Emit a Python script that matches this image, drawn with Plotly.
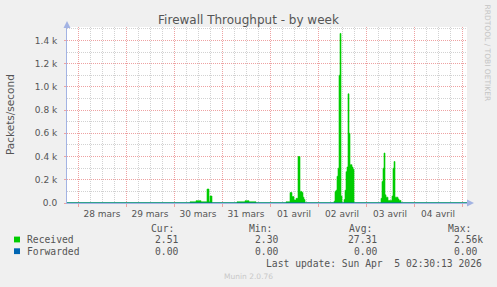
import plotly.graph_objects as go

# ---------------- data ----------------
rx_times = [
    "2026-03-27 18:30", "2026-03-30 08:00", "2026-03-30 11:00", "2026-03-30 13:30",
    "2026-03-30 16:30", "2026-03-30 17:30", "2026-03-30 18:00", "2026-03-30 19:00",
    "2026-03-31 07:30", "2026-03-31 11:30", "2026-03-31 13:30", "2026-03-31 17:00",
    "2026-04-01 08:00", "2026-04-01 10:00", "2026-04-01 11:00", "2026-04-01 12:00",
    "2026-04-01 13:00", "2026-04-01 14:00", "2026-04-01 15:00", "2026-04-01 16:00",
    "2026-04-01 16:30", "2026-04-01 17:00", "2026-04-01 17:30",
    "2026-04-02 08:00", "2026-04-02 08:30", "2026-04-02 09:00", "2026-04-02 09:30",
    "2026-04-02 10:00", "2026-04-02 10:30", "2026-04-02 11:00", "2026-04-02 11:30",
    "2026-04-02 12:00", "2026-04-02 13:00", "2026-04-02 13:30", "2026-04-02 14:00",
    "2026-04-02 14:30", "2026-04-02 15:00", "2026-04-02 15:30", "2026-04-02 16:00",
    "2026-04-02 17:00", "2026-04-02 17:30", "2026-04-02 18:00",
    "2026-04-03 07:30", "2026-04-03 08:00", "2026-04-03 08:30", "2026-04-03 09:00",
    "2026-04-03 09:30", "2026-04-03 10:00", "2026-04-03 11:00", "2026-04-03 13:00",
    "2026-04-03 13:30", "2026-04-03 14:00", "2026-04-03 14:30", "2026-04-03 16:00",
    "2026-04-03 16:30", "2026-04-03 17:30", "2026-04-05 02:30",
]
rx_values = [
    2.5, 10, 20, 10,
    120, 10, 60, 2.5,
    10, 20, 10, 2.5,
    10, 90, 55, 25,
    40, 400, 100, 90,
    50, 30, 2.5,
    15, 100, 110, 230,
    300, 1100, 1460, 60,
    2.5, 30, 110, 270,
    310, 940, 600, 330,
    310, 290, 2.5,
    40, 185, 300, 430,
    70, 50, 22, 60,
    300, 357, 50, 35,
    22, 2.5, 2.5,
]
fw_times = ["2026-03-27 18:30", "2026-04-05 02:30"]
fw_values = [0, 0]

day_label_pos = ["2026-03-28 12:00", "2026-03-29 12:00", "2026-03-30 12:00", "2026-03-31 12:00",
                 "2026-04-01 12:00", "2026-04-02 12:00", "2026-04-03 12:00", "2026-04-04 12:00"]
day_labels = ["28 mars", "29 mars", "30 mars", "31 mars", "01 avril", "02 avril", "03 avril", "04 avril"]
day_bounds = ["2026-03-28", "2026-03-29", "2026-03-30", "2026-03-31", "2026-04-01",
              "2026-04-02", "2026-04-03", "2026-04-04", "2026-04-05"]
y_tickvals = [0, 200, 400, 600, 800, 1000, 1200, 1400]
y_ticktext = ["0.0", "0.2 k", "0.4 k", "0.6 k", "0.8 k", "1.0 k", "1.2 k", "1.4 k"]

legend_names = ["Received", "Forwarded"]
legend_colors = ["#00cc00", "#0066b3"]
cur_vals = ["2.51", "0.00"]
min_vals = ["2.30", "0.00"]
avg_vals = ["27.31", "0.00"]
max_vals = ["2.56k", "0.00"]
last_update = "Last update: Sun Apr\u00a0\u00a05 02:30:13 2026"

# ---------------- layout helpers ----------------
W, H = 497, 287
L, R, T, B = 67, 30, 27, 84
PW, PH = W - L - R, H - T - B
X0, X1 = "2026-03-27 18:30", "2026-04-05 02:30"

def px(x):
    return (x - L) / PW

def py(y):
    return (H - B - y) / PH

MAJ = "#eea2a2"
MIN = "#d2d2d2"
AX = "#a3b3e3"
TXT = "#555555"
MONO = "DejaVu Sans Mono"
SANS = "DejaVu Sans"

fig = go.Figure()
fig.add_trace(go.Scatter(x=rx_times, y=rx_values, mode="lines", line_shape="hv",
                         fill="tozeroy", fillcolor=legend_colors[0],
                         line=dict(color=legend_colors[0], width=0.6),
                         name=legend_names[0], showlegend=False, hoverinfo="skip"))
fig.add_trace(go.Scatter(x=fw_times, y=fw_values, mode="lines", xaxis="x2",
                         line=dict(color=legend_colors[1], width=1),
                         name=legend_names[1], showlegend=False, hoverinfo="skip"))

fig.update_layout(
    width=W, height=H,
    margin=dict(l=L, r=R, t=T, b=B),
    paper_bgcolor="#f0f0f0", plot_bgcolor="#ffffff",
    title=dict(text="Firewall Throughput - by week", font=dict(family=SANS, size=12, color=TXT),
               x=0.5, xref="container", xanchor="center", y=1 - 19.5 / H, yanchor="middle"),
    xaxis=dict(type="date", range=[X0, X1], tickmode="array", tickvals=day_label_pos,
               ticktext=day_labels, showgrid=False, ticks="", zeroline=False,
               showline=True, linecolor=AX, linewidth=1,
               tickfont=dict(family=SANS, size=9, color=TXT), ticklabelstandoff=2),
    xaxis2=dict(type="date", range=[X0, X1], overlaying="x", side="bottom",
                tickmode="array", tickvals=day_bounds, showticklabels=False,
                showgrid=True, gridcolor=MAJ, griddash="1px,1px", gridwidth=1,
                ticks="outside", ticklen=3, tickcolor=MAJ, zeroline=False,
                minor=dict(dtick=6 * 3600 * 1000, tick0="2026-03-28", showgrid=True,
                           gridcolor=MIN, griddash="1px,1px", ticks="")),
    yaxis=dict(range=[0, PH / 116.14 * 1000], tickmode="array", tickvals=y_tickvals,
               ticktext=y_ticktext, showgrid=True, gridcolor=MAJ, griddash="1px,1px",
               zeroline=False, showline=True, linecolor=AX, linewidth=1,
               ticks="outside", ticklen=2, tickcolor=MAJ, ticklabelstandoff=5,
               tickfont=dict(family=SANS, size=9, color=TXT),
               minor=dict(dtick=100, tick0=0, showgrid=True, gridcolor=MIN,
                          griddash="1px,1px", ticks="")),
)

shapes = [
    # axis arrows
    dict(type="path", xref="paper", yref="paper",
         path=f"M {px(467)},{py(199.5)} L {px(474)},{py(203)} L {px(467)},{py(206.5)} Z",
         fillcolor=AX, line=dict(width=0)),
    dict(type="path", xref="paper", yref="paper",
         path=f"M {px(63.5)},{py(28)} L {px(67)},{py(21)} L {px(70.5)},{py(28)} Z",
         fillcolor=AX, line=dict(width=0)),
]
for i, c in enumerate(legend_colors):
    y0 = 236.6 + i * 11.7
    shapes.append(dict(type="rect", xref="paper", yref="paper",
                       x0=px(14), x1=px(20), y0=py(y0), y1=py(y0 + 5.8),
                       fillcolor=c, line=dict(width=0)))
fig.update_layout(shapes=shapes)

anns = []
def ann(text, x, y, xanchor="left", size=9.7, color=TXT, family=MONO, angle=0):
    anns.append(dict(text=text, x=px(x), y=py(y), xref="paper", yref="paper",
                     xanchor=xanchor, yanchor="middle", showarrow=False, textangle=angle,
                     font=dict(family=family, size=size, color=color), borderpad=0))

ann("Packets/second", 10, 115, "center", size=10.5, family=SANS, angle=-90)
ann("RRDTOOL / TOBI OETIKER", 487.8, 53.3, "center", size=7.5, color="#c4c4c4",
    family=SANS, angle=90)
ann("Cur:", 149.5, 228.3)
ann("Min:", 248.0, 228.3)
ann("Avg:", 348.0, 228.3)
ann("Max:", 447.0, 228.3)
for i, name in enumerate(legend_names):
    yy = 239.6 + i * 11.7
    ann(name, 26, yy)
    ann(cur_vals[i], 179, yy, "right")
    ann(min_vals[i], 278.6, yy, "right")
    ann(avg_vals[i], 378, yy, "right")
    ann(max_vals[i], 453, yy, "left")
ann(last_update, 482.6, 263.6, "right")
ann("Munin 2.0.76", 248, 276, "center", size=7.5, color="#c8c8c8", family=SANS)
fig.update_layout(annotations=anns)

fig.write_html("out.html")
